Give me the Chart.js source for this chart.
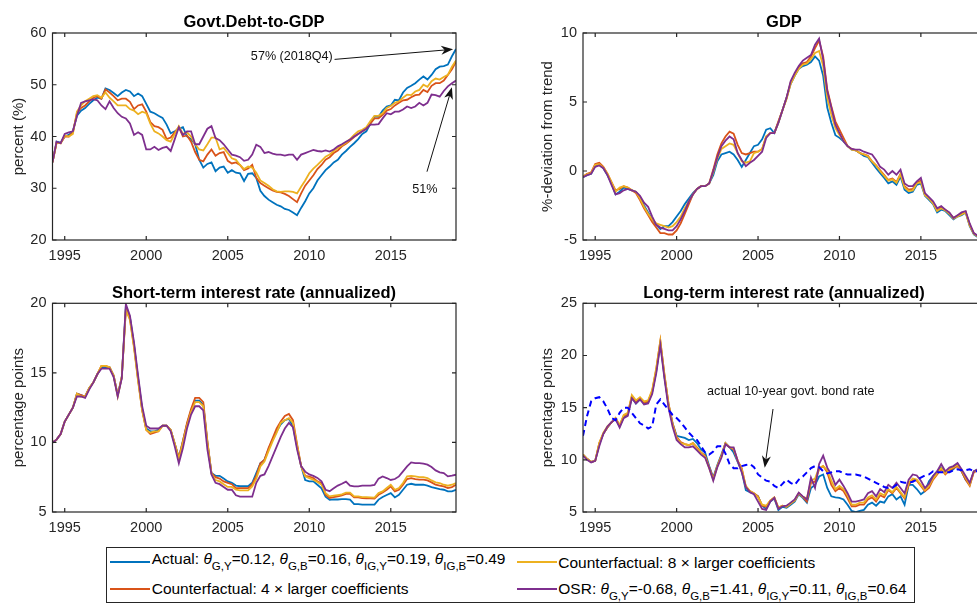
<!DOCTYPE html>
<html>
<head>
<meta charset="utf-8">
<title>Fiscal rule counterfactuals</title>
<script src="https://cdn.jsdelivr.net/npm/chart.js@4.4.1/dist/chart.umd.min.js"></script>
<style>
  html, body { margin: 0; padding: 0; background: #fff; overflow: hidden; }
  #fig { position: relative; width: 977px; height: 603px; overflow: hidden;
         font-family: "Liberation Sans", Arial, Helvetica, sans-serif; color: #262626; }
  #fig canvas { position: absolute; }
  .ttl { position: absolute; transform: translate(-50%, -50%); font-weight: bold;
         font-size: 16.5px; color: #000; white-space: nowrap; }
  #legend { position: absolute; left: 106px; top: 547px; width: 809px; height: 56px;
            box-sizing: border-box; border: 1px solid #262626; background: #fff; }
  #legend .ln { position: absolute; width: 40px; height: 2px; }
  #legend .tx { position: absolute; font-size: 15.5px; line-height: 18px; white-space: nowrap; color: #000; }
  #legend .sb { font-size: 11.5px; position: relative; top: 6px; }
</style>
</head>
<body>
<div id="fig">
  <canvas id="cDebt" width="480" height="270" style="left:0;top:0"></canvas>
  <canvas id="cGdp" width="470" height="270" style="left:530px;top:0"></canvas>
  <canvas id="cShort" width="480" height="272" style="left:0;top:270px"></canvas>
  <canvas id="cLong" width="470" height="272" style="left:530px;top:270px"></canvas>

  <div class="ttl" style="left:254px;top:20.5px">Govt.Debt-to-GDP</div>
  <div class="ttl" style="left:784px;top:20.5px">GDP</div>
  <div class="ttl" style="left:254px;top:291.5px">Short-term interest rate (annualized)</div>
  <div class="ttl" style="left:784px;top:291.5px">Long-term interest rate (annualized)</div>

  <div id="legend">
    <div class="ln" style="left:3px;top:12.7px;background:#0072BD"></div>
    <div class="tx" style="left:44.7px;top:1.7px">Actual: <i>θ</i><span class="sb">G,Y</span>=0.12, <i>θ</i><span class="sb">G,B</span>=0.16, <i>θ</i><span class="sb">IG,Y</span>=0.19, <i>θ</i><span class="sb">IG,B</span>=0.49</div>
    <div class="ln" style="left:3px;top:40px;background:#D95319"></div>
    <div class="tx" style="left:44.7px;top:32.2px">Counterfactual: 4 × larger coefficients</div>
    <div class="ln" style="left:409.7px;top:12.7px;background:#EDB120"></div>
    <div class="tx" style="left:451.3px;top:5.5px">Counterfactual: 8 × larger coefficients</div>
    <div class="ln" style="left:409.7px;top:40px;background:#7E2F8E"></div>
    <div class="tx" style="left:451.3px;top:32.2px">OSR: <i>θ</i><span class="sb">G,Y</span>=-0.68, <i>θ</i><span class="sb">G,B</span>=1.41, <i>θ</i><span class="sb">IG,Y</span>=0.11, <i>θ</i><span class="sb">IG,B</span>=0.64</div>
  </div>
</div>

<script>
// quarterly dates 1994Q1 .. 2018Q4 (plotted as year + q/4)
const quarters = [];
for (let yr = 1994; yr <= 2018; yr++) for (let q = 1; q <= 4; q++) quarters.push(yr + q / 4);
const xTicks = [1995, 2000, 2005, 2010, 2015];

// --- Govt. debt-to-GDP (%) ---
const debtActual = [
  35.0,39.0,38.8,40.0, 40.3,41.0,44.0,45.0, 45.5,46.3,47.0,47.5, 47.3,49.3,49.0,48.4, 47.8,48.5,49.0,48.7,
  47.8,48.3,47.8,46.3, 44.8,44.5,44.0,43.6, 42.3,40.6,41.0,41.5, 41.8,40.0,39.5,38.5, 35.5,34.0,34.7,35.0,
  33.3,34.0,34.2,33.0, 33.5,33.0,32.9,31.4, 32.8,32.9,32.0,29.5, 28.5,27.8,27.3,26.8, 26.5,26.0,25.8,25.3,
  24.8,26.2,27.5,29.0, 30.0,31.5,32.5,33.5, 34.2,35.0,35.5,36.5, 37.2,38.0,38.7,39.5, 40.5,41.0,42.5,43.9,
  43.8,45.0,45.8,46.0, 47.1,47.0,48.5,49.4, 49.8,50.3,51.0,51.6, 51.0,51.9,53.0,53.5, 53.6,53.9,55.5,56.9
];
const debt4x = [
  35.0,38.8,38.7,40.0, 40.0,40.8,44.5,45.5, 46.0,46.8,47.5,47.8, 47.3,49.1,48.5,47.8, 47.0,47.3,47.3,46.7,
  45.3,46.0,46.2,44.8, 42.8,42.0,41.8,41.3, 39.5,39.8,40.8,41.8, 40.0,40.2,39.0,37.0, 35.5,35.2,36.5,37.5,
  36.3,36.8,37.0,35.3, 34.8,35.0,34.5,33.5, 33.8,34.5,32.0,31.0, 30.5,30.0,29.6,29.3, 29.2,28.9,28.5,27.9,
  27.3,29.0,30.5,31.5, 32.5,33.7,34.5,35.5, 36.0,36.8,37.3,38.1, 38.6,39.2,39.9,40.5, 41.0,41.5,42.5,43.5,
  43.5,44.2,45.0,45.3, 46.0,46.5,47.0,47.1, 47.6,48.0,48.1,49.0, 48.6,49.8,50.3,50.3, 50.8,51.9,53.0,54.5
];
const debt8x = [
  35.0,38.8,38.7,40.2, 40.0,40.5,44.8,46.0, 46.8,47.3,47.8,48.0, 47.5,48.5,47.5,46.8, 46.0,46.0,46.0,45.3,
  45.0,44.3,44.8,44.5, 42.5,41.0,40.6,40.0, 39.3,39.0,40.5,42.0, 40.5,40.8,40.0,38.5, 37.5,37.3,38.5,39.8,
  39.8,37.5,37.8,36.8, 35.8,35.5,34.5,33.7, 34.2,34.0,33.0,31.5, 31.0,30.5,29.8,29.4, 29.3,29.4,29.4,29.3,
  29.0,30.3,31.5,32.9, 33.8,34.5,35.3,36.1, 36.5,37.2,37.8,38.3, 38.8,39.5,40.3,41.0, 41.3,41.8,43.0,44.0,
  44.0,44.5,45.5,45.9, 46.5,46.8,47.5,48.1, 48.0,48.7,49.0,50.0, 49.6,50.7,51.2,51.0, 51.5,51.9,53.5,54.7
];
const debtOSR = [
  35.0,39.0,38.7,40.5, 40.8,41.0,44.0,46.5, 46.8,47.0,47.2,47.0, 46.0,45.3,46.8,45.5, 44.5,43.8,43.5,42.5,
  40.3,40.8,40.3,37.5, 37.5,38.0,37.4,37.8, 38.0,37.2,39.5,41.8, 40.3,41.0,41.0,38.5, 38.5,40.0,41.5,42.0,
  39.7,39.3,38.5,37.5, 36.5,36.3,36.0,35.3, 35.5,36.5,38.4,38.0, 36.8,37.0,36.7,36.5, 36.5,36.3,36.5,36.5,
  35.5,36.5,36.8,37.1, 37.4,37.2,37.1,37.3, 37.1,37.5,38.1,38.5, 39.0,39.4,40.0,40.5, 41.0,41.5,42.3,42.3,
  42.4,43.5,44.5,44.3, 44.8,44.8,45.2,45.8, 45.5,45.8,46.5,46.0, 46.5,48.1,48.0,47.7, 48.8,49.7,50.3,50.8
];

// --- GDP (% deviation from trend) ---
const gdpActual = [
  -0.45,-0.3,-0.2,0.4, 0.5,0.2,-0.3,-0.9, -1.7,-1.5,-1.2,-1.3, -1.4,-1.5,-1.9,-2.5, -3.0,-3.5,-3.9,-4.2,
  -4.0,-4.0,-3.7,-3.3, -2.9,-2.4,-2.0,-1.6, -1.3,-1.1,-1.1,-0.9, -0.3,0.7,1.2,1.3, 1.4,1.2,0.8,0.3,
  0.8,1.3,1.8,1.9, 2.3,3.0,3.1,2.75, 3.5,4.4,5.3,6.3, 6.9,7.4,7.6,7.7, 7.9,8.3,8.0,6.9,
  4.6,3.5,2.6,2.4, 2.15,1.8,1.55,1.5, 1.3,1.1,1.0,0.6, 0.2,-0.15,-0.5,-0.9, -0.75,-1.0,-0.4,-1.35,
  -1.6,-1.5,-1.0,-0.9, -1.8,-2.1,-2.4,-3.0, -2.8,-2.9,-3.2,-3.5, -3.3,-3.2,-3.0,-4.0, -4.6,-4.8,-4.9,-5.0
];
const gdp4x = [
  -0.4,-0.2,-0.1,0.5, 0.6,0.3,-0.2,-0.8, -1.4,-1.3,-1.1,-1.2, -1.4,-1.6,-2.1,-2.7, -3.2,-3.7,-4.1,-4.5,
  -4.5,-4.6,-4.6,-4.3, -3.8,-3.1,-2.4,-1.7, -1.3,-1.1,-1.1,-0.9, 0.1,1.2,2.0,2.5, 2.85,2.7,1.9,1.3,
  1.2,1.3,1.4,1.4, 1.6,2.5,2.75,2.75, 3.6,4.4,5.3,6.4, 7.0,7.5,7.8,7.9, 8.3,8.9,9.45,8.3,
  5.9,4.7,3.6,3.0, 2.4,1.8,1.6,1.5, 1.3,1.2,1.1,0.7, 0.4,0.05,-0.3,-0.65, -0.55,-0.8,-0.2,-1.1,
  -1.35,-1.3,-0.85,-0.7, -1.7,-1.95,-2.3,-2.85, -2.65,-2.8,-3.05,-3.4, -3.25,-3.1,-2.95,-3.9, -4.5,-4.75,-4.85,-5.0
];
const gdp8x = [
  -0.4,-0.25,-0.15,0.45, 0.5,0.25,-0.2,-0.8, -1.5,-1.2,-1.1,-1.2, -1.4,-1.5,-2.0,-2.6, -3.1,-3.5,-3.8,-3.9,
  -4.0,-4.1,-4.0,-3.7, -3.3,-2.7,-2.2,-1.7, -1.3,-1.1,-1.1,-0.9, -0.1,0.9,1.6,1.8, 2.0,1.9,1.3,0.7,
  0.6,0.7,1.3,1.4, 1.6,2.5,2.75,2.75, 3.5,4.4,5.2,6.3, 6.9,7.4,7.7,7.8, 8.1,8.55,8.7,7.6,
  5.3,4.1,3.1,2.6, 2.2,1.8,1.55,1.5, 1.3,1.2,1.05,0.7, 0.4,0.0,-0.35,-0.7, -0.6,-0.85,-0.25,-1.2,
  -1.45,-1.4,-0.9,-0.8, -1.75,-2.0,-2.35,-2.9, -2.7,-2.85,-3.1,-3.45, -3.3,-3.15,-3.0,-3.95, -4.55,-4.75,-4.9,-5.0
];
const gdpOSR = [
  -0.45,-0.3,-0.2,0.3, 0.4,0.2,-0.3,-1.0, -1.7,-1.6,-1.4,-1.3, -1.4,-1.5,-1.8,-2.3, -2.6,-3.3,-3.9,-4.1,
  -4.2,-4.3,-4.3,-4.0, -3.5,-2.9,-2.2,-1.7, -1.3,-1.1,-1.1,-0.9, 0.0,1.0,1.8,2.2, 2.5,2.3,1.3,0.8,
  0.35,0.6,0.8,1.1, 1.4,2.4,2.75,2.75, 3.5,4.4,5.3,6.5, 7.1,7.6,8.0,8.2, 8.4,9.15,9.6,8.1,
  5.8,4.6,3.35,2.75, 2.15,1.8,1.6,1.55, 1.55,1.4,1.3,1.2, 0.8,0.3,0.1,-0.27, 0.0,-0.27,0.1,-0.9,
  -1.1,-1.1,-0.75,-0.5, -1.6,-1.9,-2.2,-2.7, -2.55,-2.8,-3.0,-3.4, -3.2,-3.0,-2.9,-3.8, -4.5,-4.7,-4.85,-5.0
];

// --- Short-term interest rate (annualized, pp) ---
const stActual = [
  10.0,10.2,10.6,11.5, 12.0,12.5,13.5,13.4, 13.3,13.9,14.3,14.9, 15.4,15.4,15.4,14.8, 13.4,14.7,19.8,19.0,
  17.0,14.6,12.4,11.0, 10.8,10.8,10.9,11.2, 11.2,10.9,9.9,8.9, 10.1,11.3,12.3,13.0, 13.0,12.7,10.0,7.8,
  7.6,7.6,7.4,7.2, 7.1,6.9,6.85,6.85, 6.85,7.1,7.8,8.5, 8.75,9.5,10.2,10.8, 11.3,11.6,11.7,11.15,
  9.7,8.3,7.3,7.2, 7.2,6.96,6.7,6.1, 5.87,5.9,5.9,5.93, 5.93,5.89,5.57,5.57, 5.53,5.53,5.53,5.53,
  5.89,6.08,6.22,6.36, 6.05,6.24,6.6,6.96, 7.03,6.96,6.96,6.96, 6.89,6.79,6.72,6.65, 6.6,6.48,6.48,6.6
];
const st4x = [
  10.0,10.2,10.6,11.5, 12.0,12.5,13.5,13.4, 13.3,13.9,14.3,14.9, 15.5,15.5,15.4,14.8, 13.4,14.7,19.6,18.9,
  16.9,14.5,12.3,10.9, 10.6,10.7,10.8,11.2, 11.2,10.9,9.9,8.9, 10.1,11.4,12.4,13.2, 13.2,12.9,10.1,7.8,
  7.5,7.4,7.2,7.1, 7.0,6.72,6.72,6.72, 6.72,7.0,7.6,8.5, 8.75,9.6,10.3,11.0, 11.5,11.9,12.05,11.6,
  9.9,8.3,7.6,7.55, 7.44,7.2,7.08,6.24, 6.0,6.07,6.12,6.2, 6.3,6.3,6.05,6.05, 6.0,5.98,5.98,5.96,
  6.24,6.4,6.6,6.84, 6.48,6.6,6.96,7.37, 7.44,7.37,7.32,7.32, 7.27,7.13,6.96,6.89, 6.84,6.72,6.79,6.96
];
const st8x = [
  10.0,10.2,10.6,11.5, 12.0,12.5,13.5,13.3, 13.3,13.9,14.3,14.9, 15.5,15.5,15.4,14.8, 13.3,14.7,19.5,18.8,
  16.8,14.4,12.3,10.9, 10.7,10.8,10.8,11.2, 11.2,10.9,9.9,8.8, 10.0,11.2,12.2,12.9, 12.9,12.6,10.0,7.75,
  7.3,7.2,7.0,6.8, 6.8,6.6,6.55,6.55, 6.55,6.84,7.4,8.28, 8.62,9.38,10.07,10.7, 11.4,11.6,11.75,11.4,
  9.8,8.3,7.56,7.44, 7.32,7.15,6.96,6.36, 6.12,6.17,6.22,6.27, 6.39,6.39,6.12,6.12, 6.07,6.07,6.05,6.03,
  6.36,6.48,6.72,6.96, 6.6,6.72,7.08,7.56, 7.6,7.56,7.51,7.51, 7.44,7.27,7.13,7.08, 6.96,6.89,6.96,7.08
];
const stOSR = [
  10.0,10.2,10.6,11.5, 12.0,12.5,13.3,13.3, 13.2,13.8,14.3,14.9, 15.3,15.3,15.3,14.7, 13.3,14.6,19.95,19.1,
  17.2,14.8,12.6,11.2, 11.0,11.0,11.0,11.2, 11.2,10.8,9.7,8.5, 9.6,11.0,12.0,12.6, 12.6,12.3,9.5,7.7,
  7.1,7.0,6.8,6.6, 6.6,6.2,6.1,6.1, 6.1,6.1,7.1,7.6, 7.7,8.3,9.0,9.7, 10.4,11.0,11.4,11.1,
  9.5,8.3,7.9,7.7, 7.6,7.45,7.2,6.6, 6.5,6.7,6.9,7.03, 7.18,6.89,6.84,6.84, 6.89,6.89,6.89,6.95,
  7.4,7.56,7.44,7.3, 7.37,7.56,7.92,8.28, 8.56,8.52,8.52,8.47, 8.4,8.23,7.99,7.85, 7.8,7.56,7.61,7.68
];

// --- Long-term interest rate (annualized, pp) ---
const ltActual = [
  10.5,10.1,9.8,9.9, 11.5,12.5,13.1,13.6, 13.9,13.2,14.1,14.3, 16.0,15.4,15.8,15.4, 15.5,16.5,18.5,21.2,
  18.0,15.3,13.5,12.3, 12.2,12.1,11.9,12.0, 11.6,11.0,10.7,9.4, 8.3,9.5,10.5,11.6, 11.2,10.7,9.8,8.9,
  7.1,6.9,6.75,6.5, 5.6,5.3,6.0,6.3, 5.2,5.5,5.4,5.7, 6.0,6.7,6.35,5.9, 7.3,7.6,8.4,8.6,
  7.3,6.5,6.4,6.35, 6.2,5.7,5.1,5.0, 5.1,5.2,5.7,5.9, 5.6,6.0,5.9,6.5, 6.7,6.2,6.5,5.7,
  7.6,7.6,7.2,6.7, 7.0,7.96,8.45,8.9, 9.25,8.8,8.9,9.1, 9.6,8.9,8.1,7.65, 8.9,9.1,8.9,9.0
];
const lt4x = [
  10.5,10.1,9.8,9.9, 11.6,12.5,13.1,13.6, 14.0,13.3,14.2,14.4, 16.1,15.6,15.9,15.5, 15.6,16.6,18.7,21.4,
  18.2,15.4,13.5,12.2, 11.7,11.5,11.4,11.6, 11.2,10.7,10.4,9.3, 8.2,9.4,10.4,11.6, 11.2,11.0,9.9,9.2,
  7.4,7.0,6.8,6.5, 5.6,5.5,6.1,6.4, 5.4,5.6,5.5,5.8, 6.1,6.8,6.45,6.0, 7.8,7.9,9.1,9.4,
  8.8,7.6,7.0,7.3, 7.0,6.3,5.55,5.55, 5.7,5.7,6.2,6.4, 6.0,6.6,6.4,7.1, 6.8,7.3,6.8,6.3,
  7.6,8.1,8.0,7.5, 7.0,7.3,8.1,8.6, 9.1,8.6,9.0,9.2, 9.4,8.9,8.1,7.5, 8.8,9.0,8.9,9.0
];
const lt8x = [
  10.5,10.1,9.8,9.9, 11.6,12.6,13.2,13.6, 14.0,13.3,14.3,14.5, 16.2,15.7,16.0,15.6, 15.7,16.7,18.8,21.4,
  18.2,15.4,13.4,12.1, 11.6,11.5,11.4,11.6, 11.1,10.7,10.3,9.2, 8.1,9.4,10.3,11.6, 11.2,11.1,9.9,9.1,
  7.5,7.0,6.8,6.4, 5.7,5.6,6.1,6.4, 5.4,5.6,5.5,5.8, 6.1,6.8,6.45,6.3, 8.0,8.2,9.25,9.4,
  9.0,8.0,7.2,7.5, 7.2,6.6,5.7,5.7, 5.9,5.9,6.4,6.6, 6.2,6.8,6.6,7.2, 6.9,7.4,6.9,6.4,
  7.8,8.2,8.1,7.6, 7.1,7.5,8.2,8.7, 9.2,8.7,9.1,9.3, 9.5,9.0,8.3,7.6, 8.9,9.0,8.9,9.0
];
const ltOSR = [
  10.4,10.0,9.75,9.9, 11.3,12.5,13.2,13.6, 13.9,13.1,14.0,14.2, 15.9,15.4,15.8,15.3, 15.4,16.3,18.3,21.0,
  17.8,15.0,13.2,11.9, 11.5,11.2,11.2,11.3, 10.9,10.5,10.2,9.2, 8.0,9.3,10.2,11.5, 11.2,11.2,9.9,8.8,
  7.4,6.9,6.7,6.0, 5.3,5.2,6.0,6.35, 5.3,5.55,5.6,5.9, 6.2,6.85,6.5,6.2, 8.3,7.3,9.6,10.4,
  9.25,8.6,7.6,8.1, 7.5,6.8,6.0,6.0, 6.1,6.2,6.8,7.0, 6.5,7.2,6.9,7.6, 7.3,7.8,7.3,6.8,
  8.1,8.6,8.5,8.0, 7.3,7.7,8.45,8.9, 9.6,8.9,9.25,9.4, 9.7,9.1,8.45,7.8, 8.9,9.1,8.9,9.0
];
// actual 10-year govt. bond rate (dashed)
const ltBond = [
  12.3,14.2,15.6,15.9, 16.0,15.6,14.9,14.0, 13.8,14.5,15.0,15.0, 14.5,14.0,13.5,13.3, 13.0,13.2,15.3,15.8,
  15.3,14.8,14.3,14.0, 13.6,13.1,12.6,12.2, 11.9,11.3,10.7,10.5, 10.8,11.3,11.3,10.6, 9.6,9.2,9.2,9.4,
  9.5,9.6,9.3,8.6, 8.3,8.0,7.9,7.5, 7.3,7.7,8.1,7.8, 7.6,8.1,8.4,8.8, 9.2,9.4,9.3,8.9,
  8.7,8.8,8.9,8.9, 8.7,8.6,8.6,8.6, 8.5,8.4,8.2,8.0, 7.8,7.6,7.4,7.3, 7.3,7.6,7.9,7.8,
  7.8,7.9,8.1,8.3, 8.5,8.6,8.9,8.8, 8.8,8.8,8.8,9.0, 9.1,9.0,9.0,9.1, 8.9,8.9,9.0,9.0
];

// MATLAB default colours
const blue = '#0072BD', orange = '#D95319', yellow = '#EDB120', purple = '#7E2F8E';
const axisGray = '#262626';

Chart.defaults.font.family = '"Liberation Sans", Arial, Helvetica, sans-serif';

function series(values, color, order, dash) {
  return {
    data: values.map((v, i) => ({ x: quarters[i], y: v })),
    borderColor: color, borderWidth: dash ? 2 : 1.8, borderDash: dash || [],
    pointRadius: 0, fill: false, tension: 0, order: order
  };
}

// text + arrow annotations, in data coordinates
const notes = {
  cDebt: [
    { text: '57% (2018Q4)', x: 2008.93, y: 55.36 },
    { arrow: [2011.55, 54.9, 2018.82, 56.85] },
    { text: '51%', x: 2017.09, y: 29.66 },
    { arrow: [2017.22, 33.2, 2018.75, 49.5] }
  ],
  cLong: [
    { text: 'actual 10-year govt. bond rate', x: 2007.01, y: 16.57 },
    { arrow: [2005.92, 14.87, 2005.41, 9.24] }
  ]
};

function drawArrow(ctx, x1, y1, x2, y2) {
  const a = Math.atan2(y2 - y1, x2 - x1), len = 12, half = 4.5;
  const c = Math.cos(a), s = Math.sin(a);
  const bx = x2 - len * c, by = y2 - len * s;
  ctx.beginPath(); ctx.moveTo(x1, y1); ctx.lineTo(x2 - 6 * c, y2 - 6 * s); ctx.stroke();
  ctx.beginPath();
  ctx.moveTo(x2, y2);
  ctx.lineTo(bx + half * s, by - half * c);
  ctx.lineTo(x2 - 0.7 * len * c, y2 - 0.7 * len * s);
  ctx.lineTo(bx - half * s, by + half * c);
  ctx.closePath(); ctx.fill();
}

const notePlugin = {
  id: 'notes',
  afterDraw(chart) {
    const items = notes[chart.canvas.id];
    if (!items) return;
    const { ctx, scales: { x, y } } = chart;
    ctx.save();
    ctx.fillStyle = '#111'; ctx.strokeStyle = '#111'; ctx.lineWidth = 1;
    ctx.font = '12.6px "Liberation Sans", Arial, sans-serif';
    ctx.textAlign = 'center'; ctx.textBaseline = 'middle';
    items.forEach(n => {
      if (n.text) ctx.fillText(n.text, x.getPixelForValue(n.x), y.getPixelForValue(n.y));
      if (n.arrow) {
        const [ax, ay, bx, by] = n.arrow;
        drawArrow(ctx, x.getPixelForValue(ax), y.getPixelForValue(ay), x.getPixelForValue(bx), y.getPixelForValue(by));
      }
    });
    ctx.restore();
  }
};

// box around the axes with inward ticks on all four sides
const framePlugin = {
  id: 'frame',
  afterDraw(chart) {
    const { ctx, chartArea: a, scales: { x, y } } = chart;
    ctx.save();
    ctx.strokeStyle = axisGray; ctx.lineWidth = 1.2;
    ctx.strokeRect(a.left, a.top, a.right - a.left, a.bottom - a.top);
    ctx.beginPath();
    x.ticks.forEach(t => {
      const px = x.getPixelForValue(t.value);
      ctx.moveTo(px, a.bottom); ctx.lineTo(px, a.bottom - 4);
      ctx.moveTo(px, a.top); ctx.lineTo(px, a.top + 4);
    });
    y.ticks.forEach(t => {
      const py = y.getPixelForValue(t.value);
      ctx.moveTo(a.left, py); ctx.lineTo(a.left + 4, py);
      ctx.moveTo(a.right, py); ctx.lineTo(a.right - 4, py);
    });
    ctx.stroke();
    ctx.restore();
  }
};

function makePanel(id, cfg) {
  return new Chart(document.getElementById(id), {
    type: 'line',
    data: { datasets: cfg.datasets },
    options: {
      responsive: false, animation: false, events: [],
      layout: { padding: { top: cfg.padTop, right: cfg.padRight, bottom: 0, left: 0 } },
      scales: {
        x: {
          type: 'linear', min: 1994.25, max: 2019,
          afterBuildTicks: s => { s.ticks = xTicks.map(v => ({ value: v })); },
          afterFit: s => { s.height = 30; },
          grid: { display: false, drawTicks: false }, border: { display: false },
          ticks: { color: axisGray, font: { size: 14.5 }, padding: 7.5, maxRotation: 0, autoSkip: false,
                   callback: v => String(v) }
        },
        y: {
          min: cfg.yMin, max: cfg.yMax,
          afterBuildTicks: s => { s.ticks = cfg.yTicks.map(v => ({ value: v })); },
          afterFit: s => { s.width = cfg.yWidth; },
          grid: { display: false, drawTicks: false }, border: { display: false },
          ticks: { color: axisGray, font: { size: 14.5 }, padding: 6, callback: v => String(v) },
          title: { display: true, text: cfg.yTitle, color: axisGray, font: { size: 15 },
                   padding: { top: cfg.titlePad, bottom: 0 } }
        }
      },
      plugins: { legend: { display: false }, tooltip: { enabled: false } }
    },
    plugins: [framePlugin, notePlugin]
  });
}

makePanel('cDebt', {
  datasets: [series(debtActual, blue, 4), series(debt4x, orange, 3), series(debt8x, yellow, 2), series(debtOSR, purple, 1)],
  yMin: 20, yMax: 60, yTicks: [20, 30, 40, 50, 60], yTitle: 'percent (%)',
  padTop: 33, padRight: 24, yWidth: 52.5, titlePad: 10
});
makePanel('cGdp', {
  datasets: [series(gdpActual, blue, 4), series(gdp4x, orange, 3), series(gdp8x, yellow, 2), series(gdpOSR, purple, 1)],
  yMin: -5, yMax: 10, yTicks: [-5, 0, 5, 10], yTitle: '%-deviation from trend',
  padTop: 33, padRight: 14, yWidth: 53, titlePad: 8.5
});
makePanel('cShort', {
  datasets: [series(stActual, blue, 4), series(st4x, orange, 3), series(st8x, yellow, 2), series(stOSR, purple, 1)],
  yMin: 5, yMax: 20, yTicks: [5, 10, 15, 20], yTitle: 'percentage points',
  padTop: 33.3, padRight: 24, yWidth: 52.5, titlePad: 10
});
makePanel('cLong', {
  datasets: [series(ltActual, blue, 4), series(lt4x, orange, 3), series(lt8x, yellow, 2), series(ltOSR, purple, 1),
             series(ltBond, '#0000FF', 0, [6, 4])],
  yMin: 5, yMax: 25, yTicks: [5, 10, 15, 20, 25], yTitle: 'percentage points',
  padTop: 33.3, padRight: 14, yWidth: 53, titlePad: 8.5
});
</script>
</body>
</html>
